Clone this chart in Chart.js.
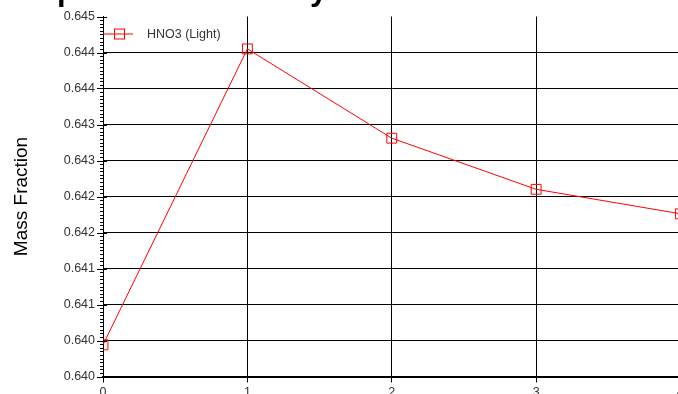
<!DOCTYPE html>
<html>
<head>
<meta charset="utf-8">
<script src="https://cdn.jsdelivr.net/npm/chart.js@4.4.1/dist/chart.umd.min.js"></script>
<style>
  html, body { margin: 0; padding: 0; background: #fff; }
  #frame { position: relative; width: 678px; height: 394px; overflow: hidden; background: #fff; }
  #chart { position: absolute; left: 0; top: 0; }
</style>
</head>
<body>
<div id="frame"><canvas id="chart" width="700" height="420"></canvas></div>
<script>
// Stage numbers and HNO3 (light) mass fraction at each stage
const stages = [0, 1, 2, 3, 4];
const hno3Light = [0.64044, 0.64455, 0.64331, 0.64260, 0.64226];

// Axis tick labels (shown with three decimals)
const yTickLabels = ['0.640', '0.640', '0.641', '0.641', '0.642', '0.642',
                     '0.643', '0.643', '0.644', '0.644', '0.645'];
const xTickLabels = ['0', '1', '2', '3', '4'];

const seriesName = 'HNO3 (Light)';
const chartTitle = 'Composition Profile by Section';
const yAxisTitle = 'Mass Fraction';

const yMin = 0.640, yMax = 0.645, yStep = 0.0005;
const FONT = '"Liberation Sans", Arial, sans-serif';

// Bold title sitting above the plot
const titlePlugin = {
  id: 'topTitle',
  afterDraw(chart) {
    const ctx = chart.ctx, a = chart.chartArea;
    ctx.save();
    ctx.font = 'bold 31px ' + FONT;
    ctx.fillStyle = '#000';
    ctx.textAlign = 'left';
    ctx.textBaseline = 'alphabetic';
    ctx.fillText(chartTitle, a.left - 115, a.top - 16.5);
    ctx.restore();
  }
};

// Major and minor tick marks along the value axis
const minorTicks = {
  id: 'minorTicks',
  afterDraw(chart) {
    const y = chart.scales.y, ctx = chart.ctx, x0 = chart.chartArea.left;
    const n = Math.round((yMax - yMin) / yStep) * 10;
    ctx.save();
    ctx.strokeStyle = '#000';
    ctx.lineWidth = 1;
    for (let i = 0; i <= n; i++) {
      const py = Math.round(y.getPixelForValue(yMin + i * yStep / 10)) + 0.5;
      const major = i % 10 === 0;
      ctx.beginPath();
      ctx.moveTo(x0 - (major ? 6 : 3), py);
      ctx.lineTo(x0 + (major ? 4 : 1), py);
      ctx.stroke();
    }
    ctx.restore();
  }
};

// Legend entry: line + square marker + label, inside the plot's top-left corner
const insideLegend = {
  id: 'insideLegend',
  afterDraw(chart) {
    const ctx = chart.ctx, a = chart.chartArea;
    const ds = chart.data.datasets[0];
    const ly = a.top + 17;
    ctx.save();
    ctx.strokeStyle = ds.borderColor;
    ctx.lineWidth = 1;
    ctx.beginPath();
    ctx.moveTo(a.left, ly + 0.5);
    ctx.lineTo(a.left + 30, ly + 0.5);
    ctx.stroke();
    ctx.strokeRect(a.left + 11.5, ly - 4.5, 10, 10);
    ctx.font = '12.5px ' + FONT;
    ctx.fillStyle = '#333';
    ctx.textAlign = 'left';
    ctx.textBaseline = 'middle';
    ctx.fillText(ds.label, a.left + 44, ly + 1);
    ctx.restore();
  }
};

const chart = new Chart(document.getElementById('chart'), {
  type: 'line',
  data: {
    datasets: [{
      label: seriesName,
      data: stages.map((s, i) => ({ x: s, y: hno3Light[i] })),
      borderColor: '#ff0000',
      borderWidth: 1,
      tension: 0,
      pointStyle: 'rect',
      pointRadius: 7,
      pointHoverRadius: 7,
      pointBorderWidth: 1,
      pointBorderColor: '#ff0000',
      pointBackgroundColor: 'rgba(0,0,0,0)'
    }]
  },
  options: {
    responsive: false,
    animation: false,
    devicePixelRatio: 1,
    layout: { padding: { top: 16.5, right: 19.5, bottom: 0, left: 0 } },
    plugins: {
      legend: { display: false },
      title: { display: false },
      tooltip: { enabled: false }
    },
    scales: {
      x: {
        type: 'linear',
        min: 0, max: 4,
        ticks: {
          stepSize: 1,
          padding: 3,
          color: '#333',
          font: { family: FONT, size: 12.5 },
          callback: (v) => xTickLabels[v] ?? ''
        },
        grid: { color: '#000', lineWidth: 1, drawTicks: true, tickLength: 6, tickColor: '#000' },
        border: { color: '#000', width: 2 },
        afterFit(s) { s.height = 43.5; }
      },
      y: {
        min: yMin, max: yMax,
        ticks: {
          stepSize: yStep,
          padding: 8,
          color: '#333',
          font: { family: FONT, size: 12.5 },
          callback: (v, i) => yTickLabels[i] ?? ''
        },
        grid: {
          drawTicks: false,
          lineWidth: 1,
          color: (c) => (c.tick && c.tick.value >= yMax - 1e-9) ? 'rgba(0,0,0,0)' : '#000'
        },
        border: { color: '#000', width: 1 },
        title: {
          display: true,
          text: yAxisTitle,
          color: '#000',
          font: { family: FONT, size: 19 },
          padding: { top: 10.5, bottom: 0 }
        },
        afterFit(s) { s.width = 103; }
      }
    }
  },
  plugins: [titlePlugin, minorTicks, insideLegend]
});
</script>
</body>
</html>
